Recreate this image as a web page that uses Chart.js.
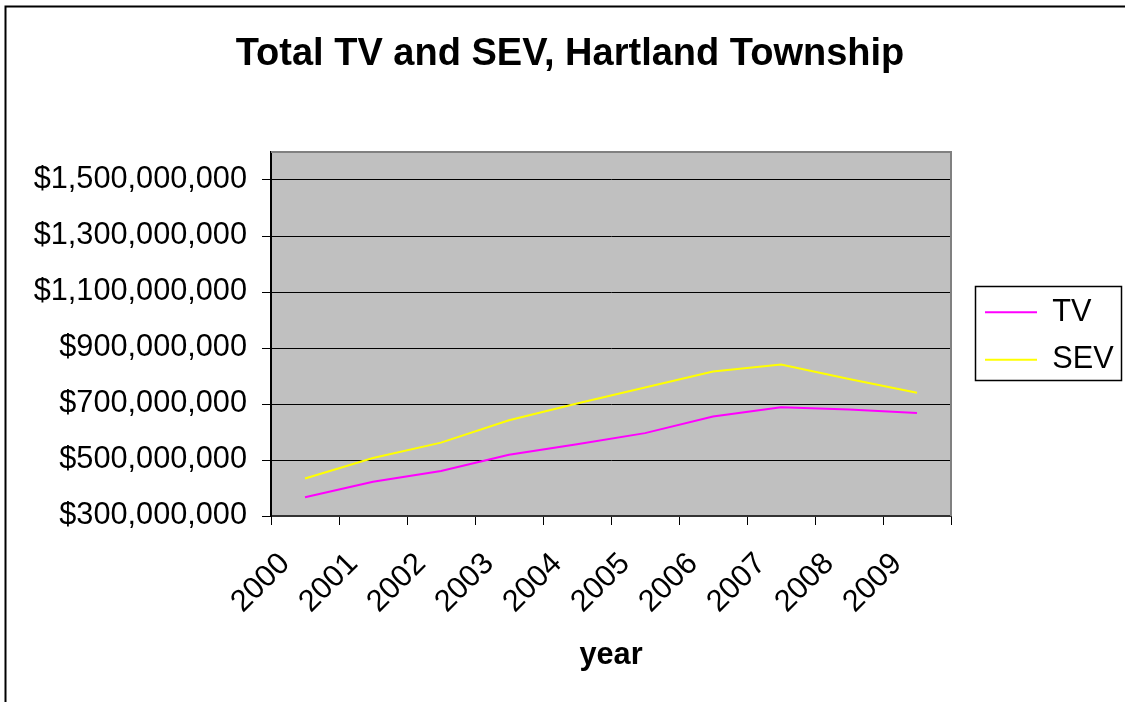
<!DOCTYPE html>
<html><head><meta charset="utf-8">
<script src="https://cdn.jsdelivr.net/npm/chart.js@4.4.0/dist/chart.umd.min.js"></script>
<style>html,body{margin:0;padding:0;background:#fff;}canvas{display:block;}</style>
</head><body>
<canvas id="c" width="1125" height="702"></canvas>
<script>
const years = ['2000','2001','2002','2003','2004','2005','2006','2007','2008','2009'];
const tvValues  = [367000000, 422000000, 461000000, 519000000, 556000000, 596000000, 655000000, 688000000, 680000000, 668000000];
const sevValues = [434000000, 507000000, 562000000, 642000000, 702000000, 759000000, 816000000, 841000000, 789000000, 740000000];
const yTickValues = [300000000, 500000000, 700000000, 900000000, 1100000000, 1300000000, 1500000000];
const yMin = 300000000;
const yMax = 1600000000;
const chartTitle = 'Total TV and SEV, Hartland Township';
const xAxisTitle = 'year';
const seriesNames = ['TV', 'SEV'];

Chart.defaults.font.family = '"Liberation Sans", Arial, sans-serif';
Chart.defaults.color = '#000';

const LEGEND_WIDTH = 174;
const LEGEND_SHIFT_X = 17;
const LEGEND_SHIFT_Y = 2;

const framePlugin = {
  id: 'framePlugin',
  afterInit(chart) {
    const lg = chart.legend;
    if (!lg || lg._patched) return;
    lg._patched = true;
    const origFit = lg.fit.bind(lg);
    lg.fit = function () { origFit(); this.width = LEGEND_WIDTH; };
    const origDraw = lg.draw.bind(lg);
    lg.draw = function () {
      const c = this.ctx;
      c.save();
      c.translate(LEGEND_SHIFT_X, LEGEND_SHIFT_Y);
      origDraw();
      c.restore();
    };
  },
  beforeDraw(chart) {
    const {ctx, chartArea: a} = chart;
    ctx.save();
    ctx.fillStyle = '#fff';
    ctx.fillRect(0, 0, chart.width, chart.height);
    ctx.fillStyle = '#C0C0C0';
    ctx.fillRect(a.left, a.top, a.right - a.left, a.bottom - a.top);
    ctx.restore();
  },
  beforeDatasetsDraw(chart) {
    const {ctx, chartArea: a} = chart;
    ctx.save();
    ctx.strokeStyle = '#808080';
    ctx.lineWidth = 2;
    ctx.beginPath();
    ctx.moveTo(a.left, a.top);
    ctx.lineTo(a.right, a.top);
    ctx.lineTo(a.right, a.bottom);
    ctx.stroke();
    ctx.restore();
  },
  afterDraw(chart) {
    const ctx = chart.ctx;
    ctx.save();
    ctx.strokeStyle = '#000';
    ctx.lineWidth = 2;
    ctx.beginPath();
    ctx.moveTo(5.5, 720);
    ctx.lineTo(5.5, 6.5);
    ctx.lineTo(1140, 6.5);
    ctx.stroke();
    const hb = chart.legend.legendHitBoxes;
    if (hb && hb.length) {
      let l = Infinity, r = -Infinity;
      hb.forEach(h => { l = Math.min(l, h.left); r = Math.max(r, h.left + h.width); });
      l += LEGEND_SHIFT_X; r += LEGEND_SHIFT_X;
      const t = hb[0].top + LEGEND_SHIFT_Y - 10.5;
      const last = hb[hb.length - 1];
      const b = last.top + last.height + LEGEND_SHIFT_Y + 5.5;
      ctx.lineWidth = 1.5;
      ctx.strokeRect(Math.round(l - 10) + 0.5, Math.round(t) + 0.5, Math.round(r - l + 17), Math.round(b - t));
    }
    ctx.restore();
  }
};

new Chart(document.getElementById('c'), {
  type: 'line',
  data: {
    labels: years,
    datasets: [
      {label: seriesNames[0], data: tvValues, borderColor: '#FF00FF', backgroundColor: '#FF00FF', borderWidth: 2, pointRadius: 0, pointStyle: 'line', tension: 0},
      {label: seriesNames[1], data: sevValues, borderColor: '#FFFF00', backgroundColor: '#FFFF00', borderWidth: 2, pointRadius: 0, pointStyle: 'line', tension: 0}
    ]
  },
  options: {
    responsive: false,
    animation: false,
    events: [],
    layout: {padding: {left: 15, right: 0, top: 0, bottom: 28}},
    plugins: {
      title: {
        display: true,
        text: chartTitle,
        font: {size: 38, weight: 'bold'},
        color: '#000',
        padding: {top: 31.4, bottom: 75}
      },
      legend: {
        display: true,
        position: 'right',
        fullSize: false,
        labels: {
          usePointStyle: true,
          pointStyleWidth: 52,
          font: {size: 30.7},
          color: '#000',
          padding: 17
        }
      },
      tooltip: {enabled: false}
    },
    scales: {
      x: {
        offset: true,
        grid: {display: true, offset: true, drawOnChartArea: false, drawTicks: true, tickLength: 9, color: '#000'},
        border: {display: true, color: '#333', width: 2},
        ticks: {minRotation: 45, maxRotation: 45, autoSkip: false, font: {size: 30.7}, color: '#000', padding: 21, labelOffset: -20},
        title: {display: true, text: xAxisTitle, font: {size: 30.7, weight: 'bold'}, color: '#000', padding: {top: 0, bottom: 0}},
        afterFit(scale) { scale.height = 158; }
      },
      y: {
        min: yMin,
        max: yMax,
        afterBuildTicks(scale) { scale.ticks = yTickValues.map(v => ({value: v})); },
        grid: {color: '#000', tickLength: 9, lineWidth: 1},
        border: {display: true, color: '#000', width: 2},
        ticks: {
          font: {size: 30.7},
          color: '#000',
          padding: 15,
          callback: v => '$' + Number(v).toLocaleString('en-US')
        },
        afterFit(scale) { scale.width = 256; }
      }
    }
  },
  plugins: [framePlugin]
});
</script>
</body></html>
